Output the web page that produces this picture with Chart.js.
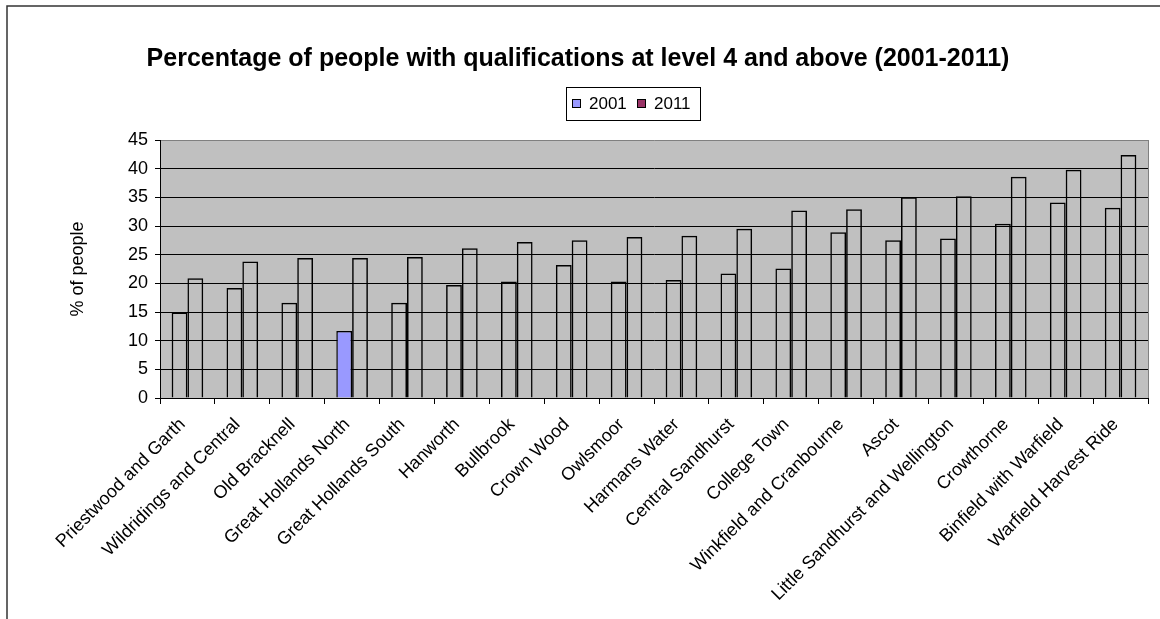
<!DOCTYPE html>
<html>
<head>
<meta charset="utf-8">
<script src="https://cdn.jsdelivr.net/npm/chart.js@4.4.1/dist/chart.umd.min.js"></script>
<style>
  body { margin: 0; background: #fff; }
  canvas { display: block; }
</style>
</head>
<body>
<canvas id="qualChart" width="1160" height="619"></canvas>
<script>
const wards = ['Priestwood and Garth', 'Wildridings and Central', 'Old Bracknell', 'Great Hollands North',
  'Great Hollands South', 'Hanworth', 'Bullbrook', 'Crown Wood', 'Owlsmoor', 'Harmans Water',
  'Central Sandhurst', 'College Town', 'Winkfield and Cranbourne', 'Ascot',
  'Little Sandhurst and Wellington', 'Crowthorne', 'Binfield with Warfield', 'Warfield Harvest Ride'];
const pct2001 = [14.9, 19.2, 16.6, 11.7, 16.6, 19.7, 20.3, 23.2, 20.3, 20.6, 21.7, 22.6, 28.9, 27.5, 27.8, 30.4, 34.1, 33.2];
const pct2011 = [20.9, 23.8, 24.4, 24.4, 24.6, 26.1, 27.2, 27.5, 28.1, 28.3, 29.5, 32.7, 32.9, 35.0, 35.2, 38.6, 39.8, 42.4];
const seriesNames = ['2001', '2011'];
const yTicks = [0, 5, 10, 15, 20, 25, 30, 35, 40, 45];

const color2001 = '#9999FF';
const color2011 = '#993366';
const plotGrey = '#C0C0C0';
const highlighted = 3; // only Great Hollands North 2001 is filled in the original

const fontFam = '"Liberation Sans", Arial, sans-serif';
Chart.defaults.font.family = fontFam;
Chart.defaults.color = '#000';

// grey plot area, right plot border, outer frame and the boxed legend
const excelLook = {
  id: 'excelLook',
  beforeDraw(chart) {
    const ctx = chart.ctx, a = chart.chartArea;
    ctx.save();
    ctx.fillStyle = '#fff';
    ctx.fillRect(0, 0, chart.width, chart.height);
    ctx.fillStyle = plotGrey;
    ctx.fillRect(a.left, a.top, a.right - a.left, a.bottom - a.top);
    ctx.restore();
  },
  afterDraw(chart) {
    const ctx = chart.ctx, a = chart.chartArea;
    ctx.save();
    ctx.strokeStyle = '#808080';
    ctx.lineWidth = 1;
    ctx.beginPath();
    ctx.moveTo(a.right + 0.5, a.top);
    ctx.lineTo(a.right + 0.5, a.bottom);
    ctx.stroke();

    ctx.strokeStyle = '#333';
    ctx.lineWidth = 1.5;
    ctx.beginPath();
    ctx.moveTo(7, chart.height);
    ctx.lineTo(7, 6);
    ctx.lineTo(chart.width, 6);
    ctx.stroke();

    // legend
    const lx = 566, ly = 87, lw = 134, lh = 33;
    ctx.strokeStyle = '#000';
    ctx.lineWidth = 1;
    ctx.strokeRect(lx + 0.5, ly + 0.5, lw, lh);
    ctx.font = '17px ' + fontFam;
    ctx.textBaseline = 'middle';
    const swatches = [color2001, color2011];
    let x = lx + 6;
    seriesNames.forEach((name, i) => {
      ctx.fillStyle = swatches[i];
      ctx.fillRect(x, ly + 12, 9, 9);
      ctx.strokeStyle = '#000';
      ctx.strokeRect(x + 0.5, ly + 12.5, 8, 8);
      ctx.fillStyle = '#000';
      ctx.fillText(name, x + 17, ly + 17.5);
      x += 65;
    });
    ctx.restore();
  }
};

const ctx = document.getElementById('qualChart').getContext('2d');
new Chart(ctx, {
  type: 'bar',
  data: {
    labels: wards,
    datasets: [{
      label: seriesNames[0],
      data: pct2001,
      backgroundColor: pct2001.map((v, i) => i === highlighted ? color2001 : 'rgba(0,0,0,0)'),
      borderColor: '#000',
      borderWidth: 1.5,
      categoryPercentage: 0.576,
      barPercentage: 1.0
    }, {
      label: seriesNames[1],
      data: pct2011,
      backgroundColor: 'rgba(0,0,0,0)',
      borderColor: '#000',
      borderWidth: 1.5,
      categoryPercentage: 0.576,
      barPercentage: 1.0
    }]
  },
  options: {
    responsive: false,
    animation: false,
    layout: { padding: { left: 8, right: 12, top: 0, bottom: 0 } },
    plugins: {
      legend: { display: false },
      tooltip: { enabled: false },
      title: {
        display: true,
        text: 'Percentage of people with qualifications at level 4 and above (2001-2011)',
        font: { size: 25, weight: 'bold', family: fontFam },
        color: '#000',
        padding: { top: 44, bottom: 66 }
      }
    },
    scales: {
      x: {
        grid: { drawOnChartArea: false, drawTicks: true, tickLength: 6, tickColor: '#000', offset: true },
        border: { color: '#000', width: 1 },
        ticks: { autoSkip: false, minRotation: 45, maxRotation: 45, padding: 10, labelOffset: -5, font: { size: 18 } },
        afterFit(scale) { scale.height = 221; }
      },
      y: {
        min: 0,
        max: 45,
        afterBuildTicks(scale) { scale.ticks = yTicks.map(v => ({ value: v })); },
        grid: {
          color: c => (c.tick && c.tick.value === 45 ? '#808080' : '#000'),
          tickColor: '#000',
          tickLength: 5
        },
        border: { color: '#000', width: 1 },
        ticks: { padding: 7, font: { size: 18 } },
        title: {
          display: true,
          text: '% of people',
          font: { size: 18 },
          padding: { top: 59, bottom: 0 }
        },
        afterFit(scale) { scale.width = 152; }
      }
    }
  },
  plugins: [excelLook]
});
</script>
</body>
</html>
